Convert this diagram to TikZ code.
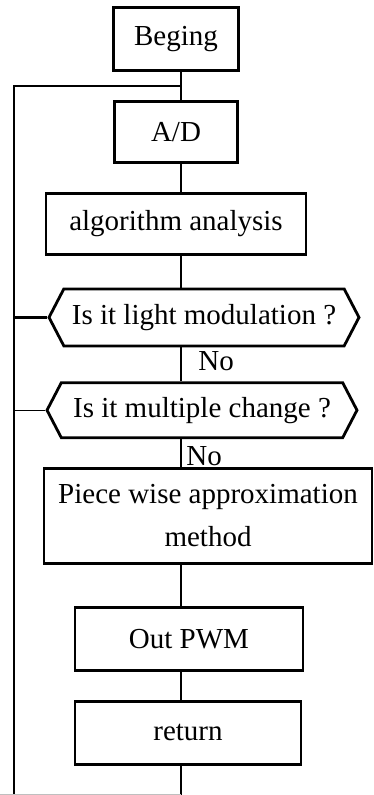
\documentclass[tikz,border=0pt]{standalone}
\usepackage{fontspec}
\setmainfont{Liberation Serif}
\usetikzlibrary{positioning,shapes.symbols}

\begin{document}
\begin{tikzpicture}[
    font=\fontsize{29}{34}\selectfont,
    line width=2.8pt,
    box/.style={draw, rectangle, inner sep=2pt},
    test/.style={draw, signal, signal to=west and east, signal pointer angle=125, inner xsep=3pt},
    answer/.style={inner sep=0pt, anchor=north west},
  ]
  \useasboundingbox (0pt,0pt) rectangle (374pt,-795pt);
  \coordinate (spine) at (181pt,0pt);
  \coordinate (loop) at (14pt,0pt);
  \coordinate (floor) at (0pt,-794.5pt);

  \node[box, minimum width=125pt, minimum height=63pt] (begin) at (176pt,-39pt) {Beging};
  \node[box, minimum width=123pt, minimum height=61pt, below=28pt of begin] (ad) {A/D};
  \node[box, minimum width=260pt, minimum height=61pt, below=28pt of ad] (algo) {algorithm analysis};
  \node[test, minimum width=310pt, minimum height=57pt, below=32pt of algo, xshift=28pt] (light) {Is it light modulation ?};
  \node[test, minimum width=310pt, minimum height=55pt, below=34pt of light, xshift=-2pt] (change) {Is it multiple change ?};
  \node[box, minimum width=328pt, minimum height=95pt, align=center, below=28pt of change, xshift=6pt] (piece) {Piece wise approximation\\[9pt] method};
  \node[box, minimum width=228pt, minimum height=63pt, below=41pt of piece, xshift=-19pt] (out) {Out PWM};
  \node[box, minimum width=226pt, minimum height=63pt, below=28pt of out, xshift=-1pt] (ret) {return};

  \node[answer, xshift=16pt, yshift=-3pt] (no1) at (light.south -| spine) {No};
  \node[answer, xshift=4pt, yshift=-6pt] (no2) at (change.south -| spine) {No};

  \path (begin.south) -- (ad.north) coordinate[midway] (join);

  \draw (begin.south -| spine) -- (ad.north -| spine);
  \draw (ad.south -| spine) -- (algo.north -| spine);
  \draw (algo.south -| spine) -- (light.north -| spine);
  \draw (light.south -| spine) -- (change.north -| spine);
  \draw (change.south -| spine) -- (piece.north -| spine);
  \draw (piece.south -| spine) -- (out.north -| spine);
  \draw (out.south -| spine) -- (ret.north -| spine);

  % way back to the top
  \draw (ret.south -| spine) -- (floor -| spine);
  \draw (floor -| loop) -- (join -| loop) -- (join -| spine);
  \draw[line width=1pt, gray!50] (floor) -- (floor -| spine);
  \draw (light.west) -- (light.west -| loop);
  \draw[line width=1.2pt] (change.west) -- (change.west -| loop);
\end{tikzpicture}
\end{document}
